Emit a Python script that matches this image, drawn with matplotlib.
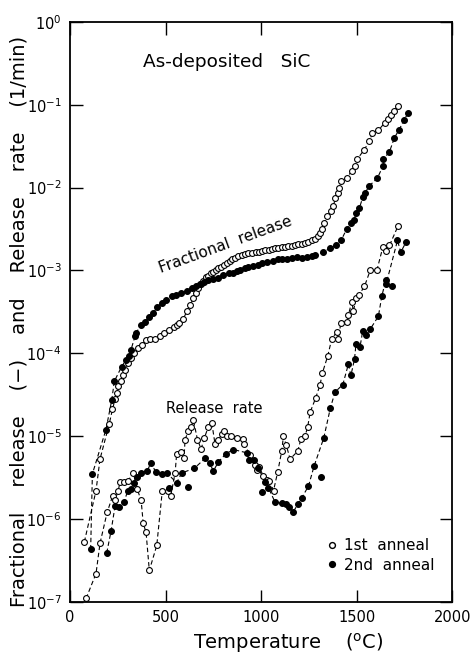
import numpy as np
import matplotlib
matplotlib.use("Agg")
import matplotlib.pyplot as plt
from matplotlib.ticker import LogLocator, NullLocator, LogFormatterMathtext

# === Données (T en °C) ===
frac1_T = [75, 136, 157, 205, 222, 236, 244, 253, 265, 277, 288, 305, 319, 337, 358, 375,
           398, 419, 445, 471, 494, 520, 545, 560, 572, 593, 611, 628, 646, 660, 672, 683,
           695, 712, 724, 736, 749, 762, 775, 790, 805, 820, 835, 850, 866, 881, 900, 918,
           934, 955, 975, 990, 1003, 1020, 1040, 1057, 1073, 1090, 1110, 1127, 1143, 1160,
           1178, 1195, 1213, 1230, 1248, 1265, 1283, 1298, 1309, 1318, 1330, 1347, 1365,
           1379, 1388, 1400, 1408, 1419, 1449, 1475, 1492, 1504, 1539, 1567, 1583, 1614,
           1646, 1663, 1681, 1696, 1716]
frac1_v = [5.3e-7, 2.2e-6, 5.3e-6, 1.4e-5, 2.1e-5, 2.8e-5, 3.3e-5, 4.0e-5, 4.6e-5, 5.5e-5,
           6.3e-5, 7.6e-5, 8.7e-5, 1.0e-4, 1.15e-4, 1.26e-4, 1.45e-4, 1.5e-4, 1.5e-4, 1.6e-4,
           1.75e-4, 1.9e-4, 2.1e-4, 2.2e-4, 2.3e-4, 2.6e-4, 3.2e-4, 3.8e-4, 4.6e-4, 5.3e-4,
           6.1e-4, 6.8e-4, 7.4e-4, 8.3e-4, 8.6e-4, 9.2e-4, 9.6e-4, 1.02e-3, 1.06e-3, 1.1e-3,
           1.16e-3, 1.22e-3, 1.3e-3, 1.36e-3, 1.42e-3, 1.48e-3, 1.52e-3, 1.56e-3, 1.6e-3,
           1.62e-3, 1.66e-3, 1.68e-3, 1.72e-3, 1.75e-3, 1.78e-3, 1.82e-3, 1.86e-3, 1.88e-3,
           1.9e-3, 1.93e-3, 1.95e-3, 1.98e-3, 2.02e-3, 2.06e-3, 2.1e-3, 2.16e-3, 2.22e-3,
           2.3e-3, 2.4e-3, 2.6e-3, 2.8e-3, 3.2e-3, 3.7e-3, 4.5e-3, 5.2e-3, 6.0e-3, 7.4e-3,
           8.5e-3, 9.8e-3, 1.2e-2, 1.3e-2, 1.6e-2, 1.8e-2, 2.2e-2, 2.85e-2, 3.6e-2, 4.6e-2,
           4.9e-2, 6.0e-2, 6.7e-2, 7.5e-2, 8.5e-2, 9.7e-2]

frac2_T = [108, 117, 188, 218, 232, 270, 293, 311, 319, 340, 346, 370, 393, 414, 436, 457,
           480, 503, 532, 555, 581, 611, 637, 660, 681, 700, 724, 747, 777, 803, 830, 855,
           873, 890, 916, 934, 960, 986, 1003, 1030, 1060, 1091, 1108, 1134, 1160, 1187,
           1213, 1239, 1265, 1283, 1323, 1361, 1391, 1419, 1449, 1471, 1487, 1497, 1515,
           1532, 1545, 1567, 1609, 1637, 1640, 1672, 1698, 1723, 1749, 1771]
frac2_v = [4.3e-7, 3.5e-6, 1.2e-5, 2.7e-5, 4.6e-5, 6.9e-5, 8.3e-5, 9.3e-5, 1.1e-4, 1.6e-4,
           1.75e-4, 2.2e-4, 2.4e-4, 2.75e-4, 3.1e-4, 3.6e-4, 4.1e-4, 4.4e-4, 4.9e-4, 5.1e-4,
           5.3e-4, 5.6e-4, 6.1e-4, 6.4e-4, 6.9e-4, 7.3e-4, 7.7e-4, 7.9e-4, 8.1e-4, 8.9e-4,
           9.2e-4, 9.4e-4, 9.8e-4, 1.02e-3, 1.08e-3, 1.1e-3, 1.13e-3, 1.15e-3, 1.22e-3,
           1.25e-3, 1.3e-3, 1.37e-3, 1.38e-3, 1.37e-3, 1.4e-3, 1.45e-3, 1.43e-3, 1.45e-3,
           1.5e-3, 1.55e-3, 1.65e-3, 1.85e-3, 2.0e-3, 2.3e-3, 3.2e-3, 3.7e-3, 4.1e-3, 4.9e-3,
           5.7e-3, 7.6e-3, 8.7e-3, 1.05e-2, 1.3e-2, 1.8e-2, 2.2e-2, 2.7e-2, 4.0e-2, 5.0e-2,
           6.6e-2, 8.0e-2]

rate1_T = [84, 136, 157, 194, 223, 236, 252, 262, 284, 304, 331, 351, 372, 383, 398, 415,
           454, 483, 511, 527, 550, 558, 581, 597, 602, 619, 634, 646, 667, 686, 703, 724,
           742, 759, 777, 794, 806, 820, 841, 873, 904, 913, 942, 969, 977, 991, 1012, 1030,
           1044, 1065, 1087, 1108, 1117, 1131, 1152, 1192, 1209, 1230, 1244, 1257, 1286,
           1309, 1321, 1349, 1370, 1396, 1405, 1417, 1449, 1457, 1475, 1483, 1497, 1513,
           1541, 1571, 1606, 1637, 1654, 1672, 1716]
rate1_v = [1.1e-7, 2.2e-7, 5.1e-7, 1.2e-6, 1.9e-6, 1.7e-6, 2.2e-6, 2.8e-6, 2.8e-6, 2.9e-6,
           3.6e-6, 2.3e-6, 1.7e-6, 8.9e-7, 6.9e-7, 2.4e-7, 4.8e-7, 2.2e-6, 2.2e-6, 1.9e-6,
           3.6e-6, 6.1e-6, 6.5e-6, 5.5e-6, 9.1e-6, 1.15e-5, 1.3e-5, 1.55e-5, 9.1e-6, 7.0e-6,
           9.5e-6, 1.3e-5, 1.45e-5, 8.0e-6, 9.1e-6, 1.05e-5, 1.17e-5, 1.0e-5, 1.0e-5, 9.5e-6,
           9.3e-6, 8.0e-6, 5.9e-6, 4.5e-6, 3.9e-6, 4.2e-6, 3.3e-6, 3.0e-6, 2.9e-6, 2.2e-6,
           3.7e-6, 6.6e-6, 1.0e-5, 7.9e-6, 5.3e-6, 6.6e-6, 9.3e-6, 1.0e-5, 1.3e-5, 1.95e-5,
           2.9e-5, 4.2e-5, 5.8e-5, 9.3e-5, 1.5e-4, 1.8e-4, 1.5e-4, 2.3e-4, 2.4e-4, 2.9e-4,
           4.2e-4, 3.2e-4, 4.6e-4, 5.1e-4, 6.4e-4, 1.0e-3, 1.0e-3, 1.9e-3, 1.7e-3, 2.0e-3,
           3.4e-3]

rate2_T = [192, 215, 236, 258, 283, 302, 318, 335, 352, 372, 405, 424, 448, 480, 506, 520,
           558, 585, 619, 651, 707, 730, 750, 777, 815, 855, 925, 939, 963, 986, 1007, 1021,
           1038, 1073, 1108, 1131, 1148, 1169, 1192, 1213, 1248, 1278, 1313, 1328, 1363,
           1387, 1428, 1457, 1470, 1489, 1497, 1518, 1532, 1550, 1571, 1614, 1632, 1653,
           1654, 1684, 1714, 1731, 1759]
rate2_v = [3.9e-7, 7.2e-7, 1.45e-6, 1.4e-6, 1.6e-6, 2.2e-6, 2.3e-6, 2.75e-6, 3.2e-6, 3.6e-6,
           3.85e-6, 4.8e-6, 3.7e-6, 3.5e-6, 3.6e-6, 2.4e-6, 2.75e-6, 3.6e-6, 2.45e-6, 4.1e-6,
           5.4e-6, 4.8e-6, 3.8e-6, 4.9e-6, 6.1e-6, 6.9e-6, 6.3e-6, 5.2e-6, 5.2e-6, 4.1e-6,
           2.1e-6, 2.8e-6, 2.4e-6, 1.6e-6, 1.55e-6, 1.5e-6, 1.4e-6, 1.23e-6, 1.5e-6, 1.8e-6,
           2.5e-6, 4.4e-6, 3.2e-6, 9.5e-6, 2.2e-5, 3.4e-5, 4.2e-5, 7.4e-5, 5.4e-5, 8.5e-5,
           1.3e-4, 1.2e-4, 1.86e-4, 1.66e-4, 1.95e-4, 2.8e-4, 4.9e-4, 7.7e-4, 6.8e-4, 6.5e-4,
           2.3e-3, 1.66e-3, 2.2e-3]
# points du 2e recuit hors de la courbe tiretée
rate2_off = [520, 619, 1007, 1313, 1684]

plt.rcParams['font.family'] = ['DejaVu Sans']

fig = plt.figure(figsize=(4.7, 6.6), dpi=100)
ax = fig.add_axes([0.149, 0.088, 0.813, 0.879])

ms = 4.2
line_kw = dict(color="black", lw=0.8, ls=(0, (4, 2.5)))

def courbe(T, v, filled, off=()):
    T = np.array(T)
    v = np.array(v)
    keep = ~np.isin(T, off)
    ax.plot(T[keep], v[keep], **line_kw, zorder=1)
    ax.plot(T, v, ls="none", marker="o", ms=ms, mew=0.8,
            mec="black", mfc="black" if filled else "white", zorder=2)

courbe(frac1_T, frac1_v, False)
courbe(frac2_T, frac2_v, True)
courbe(rate1_T, rate1_v, False)
courbe(rate2_T, rate2_v, True, rate2_off)

ax.set_yscale("log")
ax.set_xlim(0, 2000)
ax.set_ylim(1e-7, 1)
ax.set_xticks([0, 500, 1000, 1500, 2000])
ax.yaxis.set_major_locator(LogLocator(base=10, numticks=10))
ax.yaxis.set_major_formatter(LogFormatterMathtext())
ax.yaxis.set_minor_locator(NullLocator())
ax.tick_params(direction="in", length=9, width=1, labelsize=10.5,
               top=True, right=True, pad=6)
for s in ax.spines.values():
    s.set_linewidth(1.3)

ax.set_xlabel("Temperature    ($\\mathregular{^o}$C)", fontsize=14, labelpad=8)
ax.xaxis.set_label_coords(0.57, -0.05, transform=ax.transAxes)
ax.xaxis.label.set_va("top")
ax.set_ylabel("Fractional    release    (\u2212)    and    Release    rate    (1/min)",
              fontsize=14)
ax.yaxis.set_label_coords(-0.108, 0.484)

ax.text(0.19, 0.922, "As-deposited   SiC", transform=ax.transAxes, fontsize=13.3)
ax.text(0.228, 0.567, "Fractional  release", transform=ax.transAxes,
        fontsize=11, rotation=20)
ax.text(0.25, 0.326, "Release  rate", transform=ax.transAxes, fontsize=10.5)

h1, = ax.plot([], [], ls="none", marker="o", ms=ms, mec="black", mfc="white")
h2, = ax.plot([], [], ls="none", marker="o", ms=ms, mec="black", mfc="black")
ax.legend([h1, h2], ["1st  anneal", "2nd  anneal"], loc="lower left",
          bbox_to_anchor=(0.63, 0.027), frameon=False, fontsize=11,
          handletextpad=0.3, labelspacing=0.3, handlelength=1.0)

fig.savefig("out.png", dpi=100)
